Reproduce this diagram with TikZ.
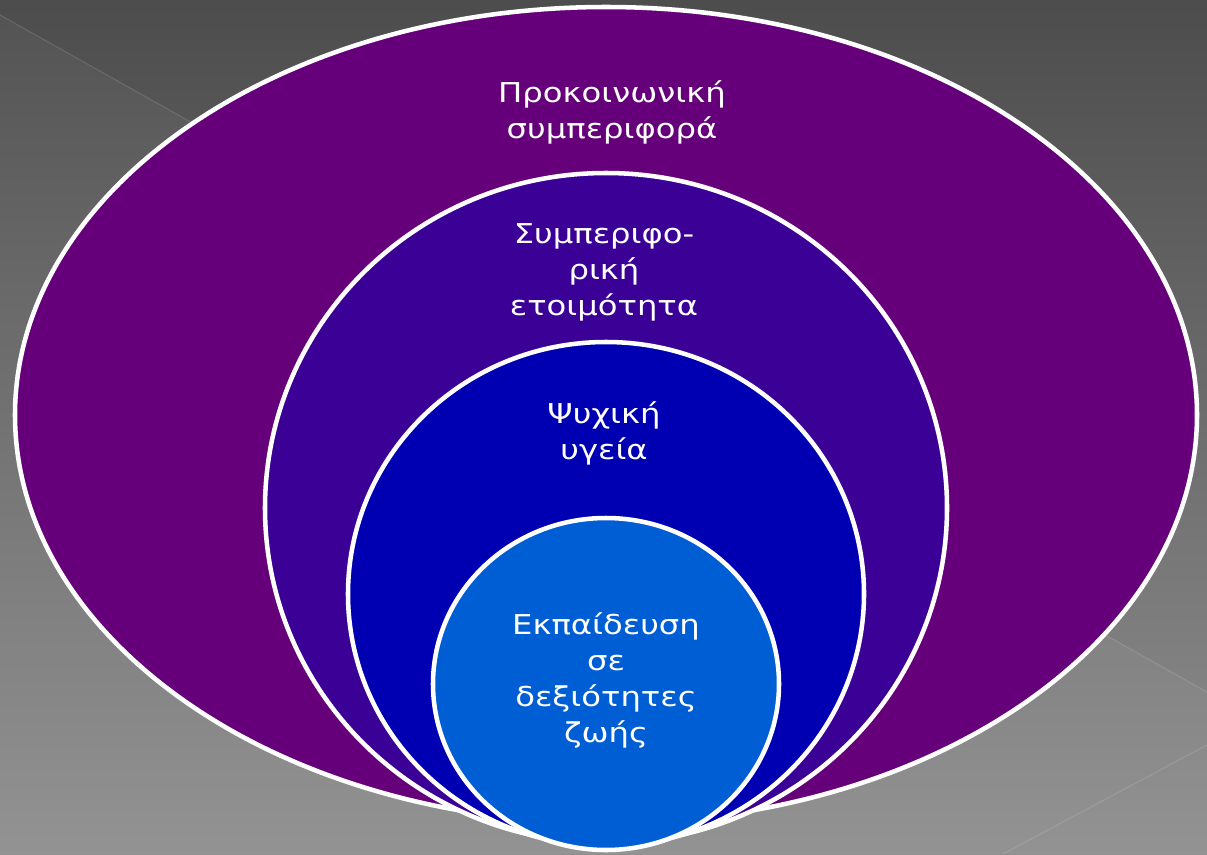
\documentclass[tikz,border=0pt]{standalone}
\usepackage{fontspec}
\setmainfont{DejaVu Sans}[FakeStretch=1.18]
\begin{document}
\begin{tikzpicture}[x=0.75pt,y=-0.75pt,
  ring/.style={draw=white,line width=3.4pt},
  lbl/.style={text=white,align=center,font=\fontsize{20.5}{27}\selectfont,inner sep=0pt},
  faint/.style={draw=white,draw opacity=0.12,line width=0.8pt}]
\definecolor{cOuter}{HTML}{66007A}
\definecolor{cSecond}{HTML}{3B0096}
\definecolor{cThird}{HTML}{0000B2}
\definecolor{cInner}{HTML}{005ED4}
\useasboundingbox (0,0) rectangle (1207,854);
% background
\shade[top color=black!70!white, bottom color=black!44] (0,0) rectangle (1207,854);
\fill[white,opacity=0.04] (0,15) -- (1207,692) -- (1207,854) -- (0,854) -- cycle;
\draw[faint] (0,15) -- (1207,692);
\draw[faint] (1207,745) -- (1003,854);
% rings
\path[fill=cOuter,ring] (606,415) ellipse [x radius=591, y radius=408];
\path[fill=cSecond,ring] (606,508) ellipse [x radius=341, y radius=335];
\path[fill=cThird,ring] (606,594) ellipse [x radius=258, y radius=252];
\path[fill=cInner,ring] (606,684) ellipse [x radius=173, y radius=166];
% labels
\node[lbl] (t1) at (612,112) {Προκοινωνική\\συμπεριφορά};
\node[lbl] (t2) at (604,272) {Συμπεριφο-\\ρική\\ετοιμότητα};
\node[lbl] (t3) at (604,433) {Ψυχική\\υγεία};
\node[lbl] (t4) at (606,680) {Εκπαίδευση\\σε\\δεξιότητες\\ζωής};
\end{tikzpicture}
\end{document}
